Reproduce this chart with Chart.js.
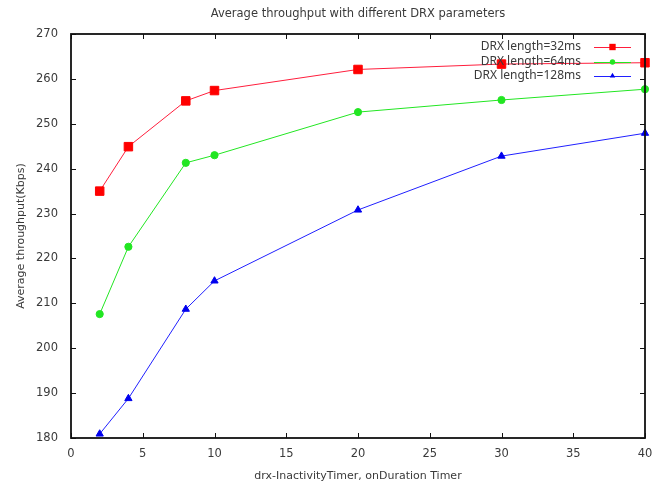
<!DOCTYPE html>
<html>
<head>
<meta charset="utf-8">
<script src="https://cdn.jsdelivr.net/npm/chart.js@4/dist/chart.umd.min.js"></script>
<style>
  html, body { margin: 0; padding: 0; background: #fff; }
  #wrap { width: 667px; height: 486px; }
</style>
</head>
<body>
<div id="wrap"><canvas id="drx-canva"></canvas></div>
<script>
const timerValues = [2, 4, 8, 10, 20, 30, 40];
const drx32 = [235.0, 244.9, 255.1, 257.4, 262.1, 263.3, 263.6];
const drx64 = [207.6, 222.6, 241.3, 243.0, 252.6, 255.3, 257.7];
const drx128 = [180.9, 188.8, 208.7, 215.0, 230.8, 242.8, 247.9];
const seriesLabels = ['DRX length=32ms', 'DRX length=64ms', 'DRX length=128ms'];

const xMin = 0, xMax = 40, xStep = 5;
const yMin = 180, yMax = 270, yStep = 10;

const textColor = '#3a3a3a';
const fontName = "'DejaVu Sans', 'Noto Sans', sans-serif";
const keyFont = "'Noto Sans', 'DejaVu Sans', sans-serif";

function toPoints(ys) {
  return timerValues.map((x, i) => ({x: x, y: ys[i]}));
}

// box around the plot with gnuplot style inward ticks on every side
const framePlugin = {
  id: 'frame',
  afterDatasetsDraw(chart) {
    const {ctx, chartArea: a} = chart;
    const xs = chart.scales.x, ys = chart.scales.y;
    const len = 5;
    ctx.save();
    ctx.strokeStyle = '#111';
    ctx.lineWidth = 1;
    ctx.beginPath();
    xs.ticks.forEach(t => {
      const px = Math.round(xs.getPixelForValue(t.value)) + 0.5;
      ctx.moveTo(px, a.bottom); ctx.lineTo(px, a.bottom - len);
      ctx.moveTo(px, a.top); ctx.lineTo(px, a.top + len);
    });
    ys.ticks.forEach(t => {
      const py = Math.round(ys.getPixelForValue(t.value)) + 0.5;
      ctx.moveTo(a.left, py); ctx.lineTo(a.left + len, py);
      ctx.moveTo(a.right, py); ctx.lineTo(a.right - len, py);
    });
    ctx.stroke();
    ctx.lineWidth = 1.8;
    ctx.strokeRect(a.left, a.top, a.right - a.left, a.bottom - a.top);
    ctx.restore();
  }
};

// legend inside the top right corner: text first, sample after it
const keyPlugin = {
  id: 'key',
  afterDraw(chart) {
    const {ctx} = chart;
    const textRight = 581;
    const lineLeft = 594, lineRight = 631;
    const rows = [47, 62, 76];
    ctx.save();
    ctx.font = "12px " + keyFont;
    ctx.textAlign = 'right';
    ctx.textBaseline = 'middle';
    chart.data.datasets.forEach((ds, i) => {
      const y = rows[i];
      ctx.fillStyle = textColor;
      ctx.fillText(ds.label, textRight, y);
      ctx.strokeStyle = ds.borderColor;
      ctx.lineWidth = 1;
      ctx.beginPath();
      ctx.moveTo(lineLeft, y + 0.5);
      ctx.lineTo(lineRight, y + 0.5);
      ctx.stroke();
      ctx.fillStyle = ds.pointBackgroundColor;
      ctx.strokeStyle = ds.pointBorderColor;
      Chart.helpers.drawPoint(ctx, {
        pointStyle: ds.pointStyle,
        radius: ds.pointRadius * 0.75,
        borderWidth: 0,
        rotation: 0
      }, (lineLeft + lineRight) / 2, y);
    });
    ctx.restore();
  }
};

const data = {
  datasets: [
    {
      label: seriesLabels[0],
      data: toPoints(drx32),
      borderColor: '#ff1e3c',
      pointBackgroundColor: '#ff0000',
      pointBorderColor: '#ff0000',
      pointStyle: 'rect',
      pointRadius: 6,
      borderWidth: 1,
      clip: false
    },
    {
      label: seriesLabels[1],
      data: toPoints(drx64),
      borderColor: '#22e622',
      pointBackgroundColor: '#22e622',
      pointBorderColor: '#22e622',
      pointStyle: 'circle',
      pointRadius: 3.6,
      borderWidth: 1,
      clip: false
    },
    {
      label: seriesLabels[2],
      data: toPoints(drx128),
      borderColor: '#2020ff',
      pointBackgroundColor: '#0000ee',
      pointBorderColor: '#0000ee',
      pointStyle: 'triangle',
      pointRadius: 4.2,
      borderWidth: 1,
      clip: false
    }
  ]
};

const config = {
  type: 'line',
  data: data,
  options: {
    responsive: true,
    maintainAspectRatio: false,
    animation: false,
    layout: {
      padding: {left: 0, right: 22, top: 0, bottom: 0}
    },
    plugins: {
      legend: {display: false},
      tooltip: {enabled: false},
      title: {
        display: true,
        fullSize: false,
        text: 'Average throughput with different DRX parameters',
        color: textColor,
        font: {family: fontName, size: 11.5, weight: 'normal'},
        padding: {top: 7.2, bottom: 13}
      }
    },
    elements: {
      line: {tension: 0}
    },
    scales: {
      x: {
        type: 'linear',
        min: xMin,
        max: xMax,
        grid: {display: false, drawTicks: false},
        border: {display: false},
        ticks: {
          stepSize: xStep,
          color: textColor,
          padding: 9,
          maxRotation: 0,
          font: {family: fontName, size: 11.5}
        },
        title: {
          display: true,
          text: 'drx-InactivityTimer, onDuration Timer',
          color: textColor,
          font: {family: fontName, size: 11},
          padding: {top: 0, bottom: 3.5}
        },
        afterFit(scale) { scale.height = 48; }
      },
      y: {
        min: yMin,
        max: yMax,
        grid: {display: false, drawTicks: false},
        border: {display: false},
        ticks: {
          stepSize: yStep,
          color: textColor,
          padding: 13,
          font: {family: fontName, size: 11.5}
        },
        title: {
          display: true,
          text: 'Average throughput(Kbps)',
          color: textColor,
          font: {family: fontName, size: 11},
          padding: {top: 15, bottom: 0}
        },
        afterFit(scale) { scale.width = 71; }
      }
    }
  },
  plugins: [framePlugin, keyPlugin]
};

let chart = new Chart(document.getElementById('drx-canva'), config);
</script>
</body>
</html>
